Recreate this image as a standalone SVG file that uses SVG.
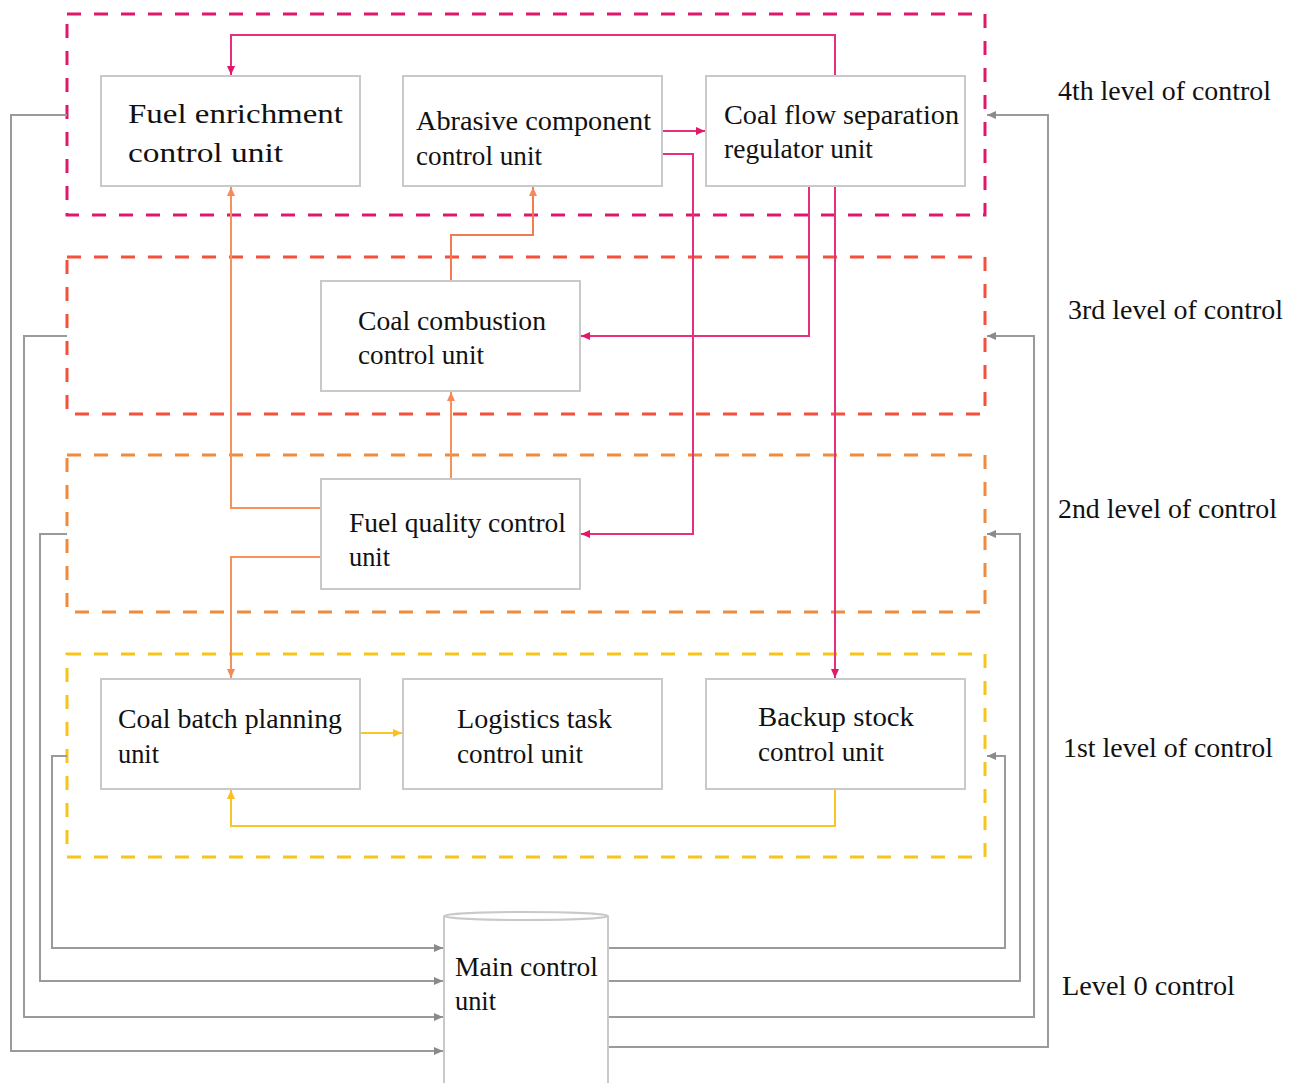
<svg xmlns="http://www.w3.org/2000/svg" width="1296" height="1083" viewBox="0 0 1296 1083">
<style>
.box{fill:#fff;stroke:#c9c9c9;stroke-width:2}
.t{font-family:"Liberation Serif","Times New Roman",serif;font-size:28px;fill:#111}
.lv{font-family:"Liberation Serif","Times New Roman",serif;font-size:27px;fill:#111}
.fr{fill:none;stroke-width:3;stroke-dasharray:14 13}
.c{fill:none;stroke-width:2}
.mg{stroke:#e6307e}
.or{stroke:#f5925a}
.ye{stroke:#f8c62a}
.gr{stroke:#9a9a9a}
</style>
<defs>
<marker id="am" markerWidth="10" markerHeight="10" refX="9" refY="5" orient="auto" markerUnits="userSpaceOnUse"><path d="M0,1 L9,5 L0,9 z" fill="#e0186c"/></marker>
<marker id="ao" markerWidth="10" markerHeight="10" refX="9" refY="5" orient="auto" markerUnits="userSpaceOnUse"><path d="M0,1 L9,5 L0,9 z" fill="#f5895a"/></marker>
<marker id="ay" markerWidth="10" markerHeight="10" refX="9" refY="5" orient="auto" markerUnits="userSpaceOnUse"><path d="M0,1 L9,5 L0,9 z" fill="#f8c020"/></marker>
<marker id="ag" markerWidth="10" markerHeight="10" refX="9" refY="5" orient="auto" markerUnits="userSpaceOnUse"><path d="M0,1 L9,5 L0,9 z" fill="#8a8a8a"/></marker>
</defs>
<rect width="1296" height="1083" fill="#fff"/>

<g id="frames">
<rect id="level4" class="fr" x="67" y="14" width="918" height="201" stroke="#e0186c"/>
<rect id="level3" class="fr" x="67" y="257" width="918" height="157" stroke="#f4503a"/>
<rect id="level2" class="fr" x="67" y="455" width="918" height="157" stroke="#f28a3c"/>
<rect id="level1" class="fr" x="67" y="654" width="918" height="203" stroke="#f9c41a"/>
</g>

<g id="connectors">
<path class="c mg" d="M835,76 V35 H231 V75" marker-end="url(#am)"/>
<path class="c mg" d="M662,131 H705" marker-end="url(#am)"/>
<path class="c mg" d="M662,154 H693 V534 H581" marker-end="url(#am)"/>
<path class="c mg" d="M809,186 V336 H581" marker-end="url(#am)"/>
<path class="c mg" d="M835,186 V678" marker-end="url(#am)"/>
<path class="c or" d="M321,508 H231 V187" marker-end="url(#ao)"/>
<path class="c or" d="M451,479 V392" marker-end="url(#ao)"/>
<path class="c" stroke="#f47a50" d="M451,281 V235 H533 V187" marker-end="url(#ao)"/>
<path class="c or" d="M321,557 H231 V678" marker-end="url(#ao)"/>
<path class="c ye" d="M360,733 H402" marker-end="url(#ay)"/>
<path class="c ye" d="M835,789 V826 H231 V790" marker-end="url(#ay)"/>
<path class="c gr" d="M67,115 H11 V1051 H443" marker-end="url(#ag)"/>
<path class="c gr" d="M67,336 H24 V1017 H443" marker-end="url(#ag)"/>
<path class="c gr" d="M67,534 H40 V981 H443" marker-end="url(#ag)"/>
<path class="c gr" d="M67,756 H52 V948 H443" marker-end="url(#ag)"/>
<path class="c gr" d="M608,948 H1005 V756 H987" marker-end="url(#ag)"/>
<path class="c gr" d="M608,981 H1020 V534 H987" marker-end="url(#ag)"/>
<path class="c gr" d="M608,1017 H1034 V336 H987" marker-end="url(#ag)"/>
<path class="c gr" d="M608,1047 H1048 V115 H987" marker-end="url(#ag)"/>
</g>

<g id="fuel-enrichment">
<rect class="box" x="101" y="76" width="259" height="110"/>
<text class="t" font-size="31" x="128" y="123" textLength="215" lengthAdjust="spacingAndGlyphs">Fuel enrichment</text>
<text class="t" font-size="31" x="128" y="162" textLength="155" lengthAdjust="spacingAndGlyphs">control unit</text>
</g>
<g id="abrasive">
<rect class="box" x="403" y="76" width="259" height="110"/>
<text class="t" x="416" y="130" textLength="235" lengthAdjust="spacingAndGlyphs">Abrasive component</text>
<text class="t" x="416" y="165" textLength="126" lengthAdjust="spacingAndGlyphs">control unit</text>
</g>
<g id="coal-flow">
<rect class="box" x="706" y="76" width="259" height="110"/>
<text class="t" x="724" y="124" textLength="235" lengthAdjust="spacingAndGlyphs">Coal flow separation</text>
<text class="t" x="724" y="158" textLength="149" lengthAdjust="spacingAndGlyphs">regulator unit</text>
</g>
<g id="coal-combustion">
<rect class="box" x="321" y="281" width="259" height="110"/>
<text class="t" x="358" y="330" textLength="188" lengthAdjust="spacingAndGlyphs">Coal combustion</text>
<text class="t" x="358" y="364" textLength="126" lengthAdjust="spacingAndGlyphs">control unit</text>
</g>
<g id="fuel-quality">
<rect class="box" x="321" y="479" width="259" height="110"/>
<text class="t" x="349" y="532" textLength="217" lengthAdjust="spacingAndGlyphs">Fuel quality control</text>
<text class="t" x="349" y="566" textLength="41" lengthAdjust="spacingAndGlyphs">unit</text>
</g>
<g id="coal-batch">
<rect class="box" x="101" y="679" width="259" height="110"/>
<text class="t" x="118" y="728" textLength="224" lengthAdjust="spacingAndGlyphs">Coal batch planning</text>
<text class="t" x="118" y="763" textLength="41" lengthAdjust="spacingAndGlyphs">unit</text>
</g>
<g id="logistics">
<rect class="box" x="403" y="679" width="259" height="110"/>
<text class="t" x="457" y="728" textLength="155" lengthAdjust="spacingAndGlyphs">Logistics task</text>
<text class="t" x="457" y="763" textLength="126" lengthAdjust="spacingAndGlyphs">control unit</text>
</g>
<g id="backup-stock">
<rect class="box" x="706" y="679" width="259" height="110"/>
<text class="t" x="758" y="726" textLength="156" lengthAdjust="spacingAndGlyphs">Backup stock</text>
<text class="t" x="758" y="761" textLength="126" lengthAdjust="spacingAndGlyphs">control unit</text>
</g>
<g id="main-control">
<path d="M444,916 V1085 H608 V916" fill="#fff" stroke="#c9c9c9" stroke-width="2"/>
<ellipse cx="526" cy="916" rx="82" ry="4" fill="#fff" stroke="#c9c9c9" stroke-width="2"/>
<text class="t" x="455" y="976" textLength="143" lengthAdjust="spacingAndGlyphs">Main control</text>
<text class="t" x="455" y="1010" textLength="41" lengthAdjust="spacingAndGlyphs">unit</text>
</g>

<g id="labels">
<text class="lv" x="1058" y="100" textLength="213" lengthAdjust="spacingAndGlyphs">4th level of control</text>
<text class="lv" x="1068" y="319" textLength="215" lengthAdjust="spacingAndGlyphs">3rd level of control</text>
<text class="lv" x="1058" y="518" textLength="219" lengthAdjust="spacingAndGlyphs">2nd level of control</text>
<text class="lv" x="1063" y="757" textLength="210" lengthAdjust="spacingAndGlyphs">1st level of control</text>
<text class="lv" x="1062" y="995" textLength="173" lengthAdjust="spacingAndGlyphs">Level 0 control</text>
</g>
</svg>
